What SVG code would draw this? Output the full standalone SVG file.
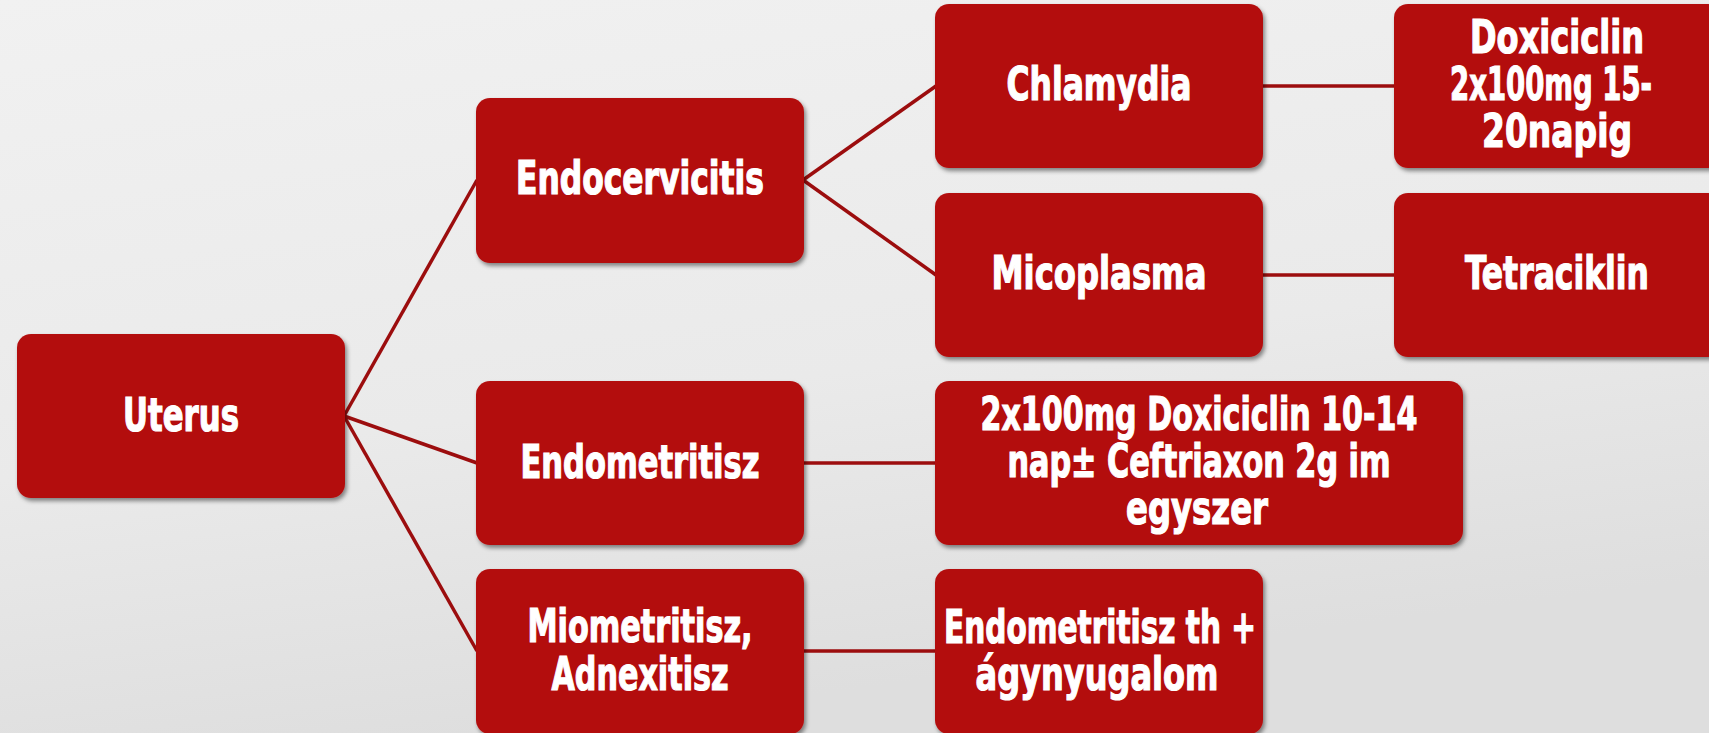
<svg xmlns="http://www.w3.org/2000/svg" width="1709" height="733" viewBox="0 0 1709 733">
<style>
.box{fill:#b30f11;filter:url(#sh);}
.t{fill:#ffffff;stroke:#ffffff;stroke-width:1.2;font-family:"DejaVu Sans Condensed","Liberation Sans",sans-serif;font-weight:bold;font-stretch:condensed;font-size:46px;text-anchor:middle;}
.c{stroke:#9c0d0e;stroke-width:3.5;fill:none;}
</style>
<defs>
<linearGradient id="bg" x1="0" y1="0" x2="0.3" y2="1">
<stop offset="0" stop-color="#f1f1f1"/>
<stop offset="0.6" stop-color="#eaeaea"/>
<stop offset="1" stop-color="#dedede"/>
</linearGradient>
<filter id="sh" x="-5%" y="-5%" width="112%" height="115%">
<feDropShadow dx="2" dy="3" stdDeviation="2" flood-color="#000" flood-opacity="0.45"/>
</filter>
</defs>
<rect width="1709" height="733" fill="url(#bg)"/>
<g id="connectors">
<line class="c" x1="344" y1="416" x2="477" y2="180"/>
<line class="c" x1="344" y1="416" x2="477" y2="463"/>
<line class="c" x1="344" y1="416" x2="477" y2="651"/>
<line class="c" x1="803" y1="180" x2="936" y2="86"/>
<line class="c" x1="803" y1="180" x2="936" y2="275"/>
<line class="c" x1="1262" y1="86" x2="1395" y2="86"/>
<line class="c" x1="1262" y1="275" x2="1395" y2="275"/>
<line class="c" x1="803" y1="463" x2="936" y2="463"/>
<line class="c" x1="803" y1="651" x2="936" y2="651"/>
</g>
<g id="uterus">
<rect class="box" x="17" y="334" width="328" height="164" rx="14"/>
<text class="t" x="181" y="431" textLength="116" lengthAdjust="spacingAndGlyphs">Uterus</text>
</g>
<g id="endocervicitis">
<rect class="box" x="476" y="98" width="328" height="165" rx="14"/>
<text class="t" x="640" y="194" textLength="248" lengthAdjust="spacingAndGlyphs">Endocervicitis</text>
</g>
<g id="endometritisz">
<rect class="box" x="476" y="381" width="328" height="164" rx="14"/>
<text class="t" x="640" y="478" textLength="239" lengthAdjust="spacingAndGlyphs">Endometritisz</text>
</g>
<g id="miometritisz">
<rect class="box" x="476" y="569" width="328" height="165" rx="14"/>
<text class="t" x="640" y="642" textLength="225" lengthAdjust="spacingAndGlyphs">Miometritisz,</text>
<text class="t" x="640" y="690" textLength="177" lengthAdjust="spacingAndGlyphs">Adnexitisz</text>
</g>
<g id="chlamydia">
<rect class="box" x="935" y="4" width="328" height="164" rx="14"/>
<text class="t" x="1099" y="100" textLength="185" lengthAdjust="spacingAndGlyphs">Chlamydia</text>
</g>
<g id="micoplasma">
<rect class="box" x="935" y="193" width="328" height="164" rx="14"/>
<text class="t" x="1099" y="289" textLength="215" lengthAdjust="spacingAndGlyphs">Micoplasma</text>
</g>
<g id="doxiciclin">
<rect class="box" x="1394" y="4" width="328" height="164" rx="14"/>
<text class="t" x="1557" y="53" textLength="174" lengthAdjust="spacingAndGlyphs">Doxiciclin</text>
<text class="t" x="1551" y="100" textLength="202" lengthAdjust="spacingAndGlyphs">2x100mg 15-</text>
<text class="t" x="1557" y="147" textLength="150" lengthAdjust="spacingAndGlyphs">20napig</text>
</g>
<g id="tetraciklin">
<rect class="box" x="1394" y="193" width="328" height="164" rx="14"/>
<text class="t" x="1557" y="289" textLength="184" lengthAdjust="spacingAndGlyphs">Tetraciklin</text>
</g>
<g id="doxi-ceftriaxon">
<rect class="box" x="935" y="381" width="528" height="164" rx="14"/>
<text class="t" x="1199" y="430" textLength="437" lengthAdjust="spacingAndGlyphs">2x100mg Doxiciclin 10-14</text>
<text class="t" x="1199" y="477" textLength="383" lengthAdjust="spacingAndGlyphs">nap± Ceftriaxon 2g im</text>
<text class="t" x="1197" y="524" textLength="142" lengthAdjust="spacingAndGlyphs">egyszer</text>
</g>
<g id="endometritisz-th">
<rect class="box" x="935" y="569" width="328" height="165" rx="14"/>
<text class="t" x="1100" y="643" textLength="312" lengthAdjust="spacingAndGlyphs">Endometritisz th +</text>
<text class="t" x="1097" y="690" textLength="243" lengthAdjust="spacingAndGlyphs">ágynyugalom</text>
</g>
</svg>
